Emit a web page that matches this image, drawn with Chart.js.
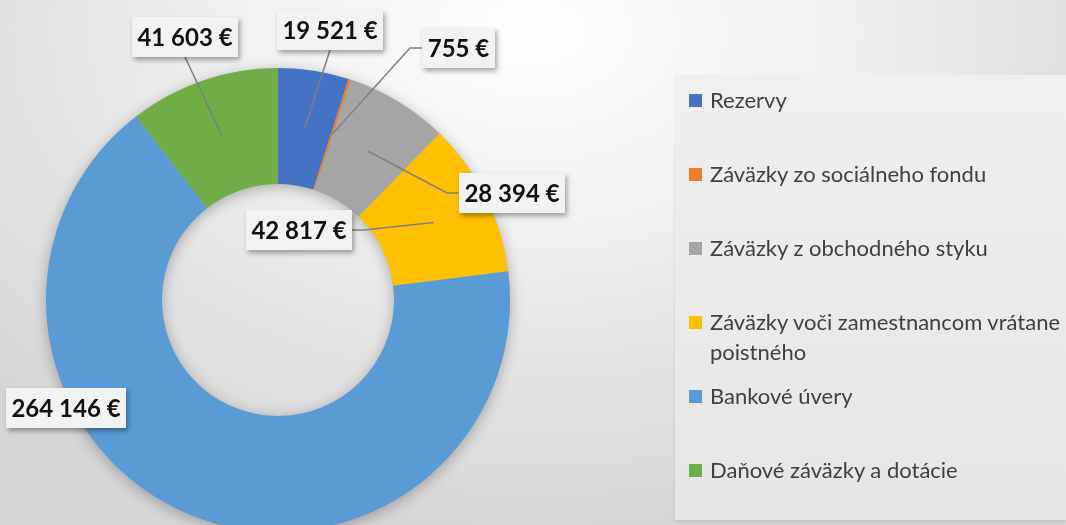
<!DOCTYPE html>
<html lang="sk">
<head>
<meta charset="UTF-8">
<title>Štruktúra záväzkov</title>
<script src="https://cdn.jsdelivr.net/npm/chart.js"></script>
<style>
  html, body { margin: 0; padding: 0; width: 1066px; height: 525px; overflow: hidden; }
  body {
    position: relative;
    font-family: Lato, "Open Sans", sans-serif;
    background: radial-gradient(ellipse 70% 95% at 50% 6%, #ffffff 0%, #f0f0f0 40%, #e0e0e0 75%, #d6d6d6 100%);
  }
  #wrap { position: absolute; left: 0; top: 0; width: 1066px; height: 560px; }
  #legend {
    position: absolute; left: 675px; top: 75px; width: 391px; height: 445px;
    background: linear-gradient(180deg, #efefef 0%, #e6e6e6 100%);
    box-shadow: 0 2px 3px rgba(0,0,0,0.10);
  }
  .item { position: absolute; left: 14px; display: flex; font-size: 22px; line-height: 30px; color: #404040; }
  .item i { flex: none; width: 13px; height: 13px; margin: 9px 8px 0 0; }
  .item span { width: 362px; }
</style>
</head>
<body>
<div id="wrap"><canvas id="chart"></canvas></div>
<div id="legend"></div>

<script>
const labels = ['Rezervy', 'Záväzky zo sociálneho fondu', 'Záväzky z obchodného styku',
  'Záväzky voči zamestnancom vrátane poistného', 'Bankové úvery', 'Daňové záväzky a dotácie'];
const values = [19521, 755, 28394, 42817, 264146, 41603];
const colors = ['#4472C4', '#ED7D31', '#A5A5A5', '#FFC000', '#5B9BD5', '#70AD47'];

// where each value box sits, relative to the ring centre in units of the outer radius
const labelPos = [[0.224, -1.164], [0.776, -1.088], [1.009, -0.461], [0.091, -0.302], [-0.912, 0.466], [-0.401, -1.134]];
const leaders = [true, true, true, true, false, true];

function fmt(n) {
  return String(n).replace(/\B(?=(\d{3})+(?!\d))/g, '\u00a0') + '\u00a0€';
}

// soft shadow under the ring
const ringShadow = {
  id: 'ringShadow',
  beforeDatasetsDraw(chart) {
    const a = chart.getDatasetMeta(0).data[0];
    const ctx = chart.ctx;
    ctx.save();
    ctx.shadowColor = 'rgba(0,0,0,0.28)';
    ctx.shadowBlur = 14;
    ctx.shadowOffsetY = 3;
    ctx.fillStyle = '#bbb';
    ctx.beginPath();
    ctx.arc(a.x, a.y, a.outerRadius, 0, Math.PI * 2);
    ctx.arc(a.x, a.y, a.innerRadius, 0, Math.PI * 2, true);
    ctx.fill();
    ctx.restore();
  }
};

// value boxes with leader lines
const callouts = {
  id: 'callouts',
  afterDatasetsDraw(chart) {
    const meta = chart.getDatasetMeta(0);
    const ctx = chart.ctx;
    const cx = meta.data[0].x, cy = meta.data[0].y, R = meta.data[0].outerRadius;
    ctx.save();
    ctx.font = 'bold 24px Lato';
    meta.data.forEach((arc, i) => {
      const text = fmt(values[i]);
      const w = Math.round(ctx.measureText(text).width + 11), h = 40;
      const bx = Math.round(cx + labelPos[i][0] * R - w / 2);
      const by = Math.round(cy + labelPos[i][1] * R - h / 2);
      const p = arc.getCenterPoint();

      if (leaders[i]) {
        ctx.strokeStyle = '#7f7f7f';
        ctx.lineWidth = 1.5;
        ctx.beginPath();
        if (p.x >= bx && p.x <= bx + w) {
          const sy = p.y > by + h ? by + h : by;
          ctx.moveTo(bx + w / 2, sy);
          ctx.lineTo(p.x, p.y);
        } else {
          const left = p.x < bx;
          const sx = left ? bx : bx + w;
          const sy = by + h / 2;
          ctx.moveTo(sx, sy);
          ctx.lineTo(sx + (left ? -12 : 12), sy);
          ctx.lineTo(p.x, p.y);
        }
        ctx.stroke();
      }

      ctx.save();
      ctx.shadowColor = 'rgba(0,0,0,0.35)';
      ctx.shadowBlur = 5;
      ctx.shadowOffsetX = 2;
      ctx.shadowOffsetY = 3;
      ctx.fillStyle = '#f2f2f2';
      ctx.fillRect(bx, by, w, h);
      ctx.restore();

      ctx.fillStyle = '#111';
      ctx.textAlign = 'center';
      ctx.textBaseline = 'middle';
      ctx.fillText(text, bx + w / 2, by + h / 2 + 1);
    });
    ctx.restore();
  }
};

new Chart(document.getElementById('chart'), {
  type: 'doughnut',
  data: {
    labels: labels,
    datasets: [{ data: values, backgroundColor: colors, borderWidth: 0 }]
  },
  options: {
    responsive: true,
    maintainAspectRatio: false,
    animation: false,
    cutout: '50%',
    layout: { padding: { left: 46, top: 68, right: 556, bottom: 28 } },
    plugins: { legend: { display: false }, tooltip: { enabled: false } }
  },
  plugins: [ringShadow, callouts]
});

document.getElementById('legend').innerHTML = labels.map((l, i) =>
  `<div class="item" style="top:${10 + i * 74}px"><i style="background:${colors[i]}"></i><span>${l}</span></div>`
).join('');
</script>
</body>
</html>
